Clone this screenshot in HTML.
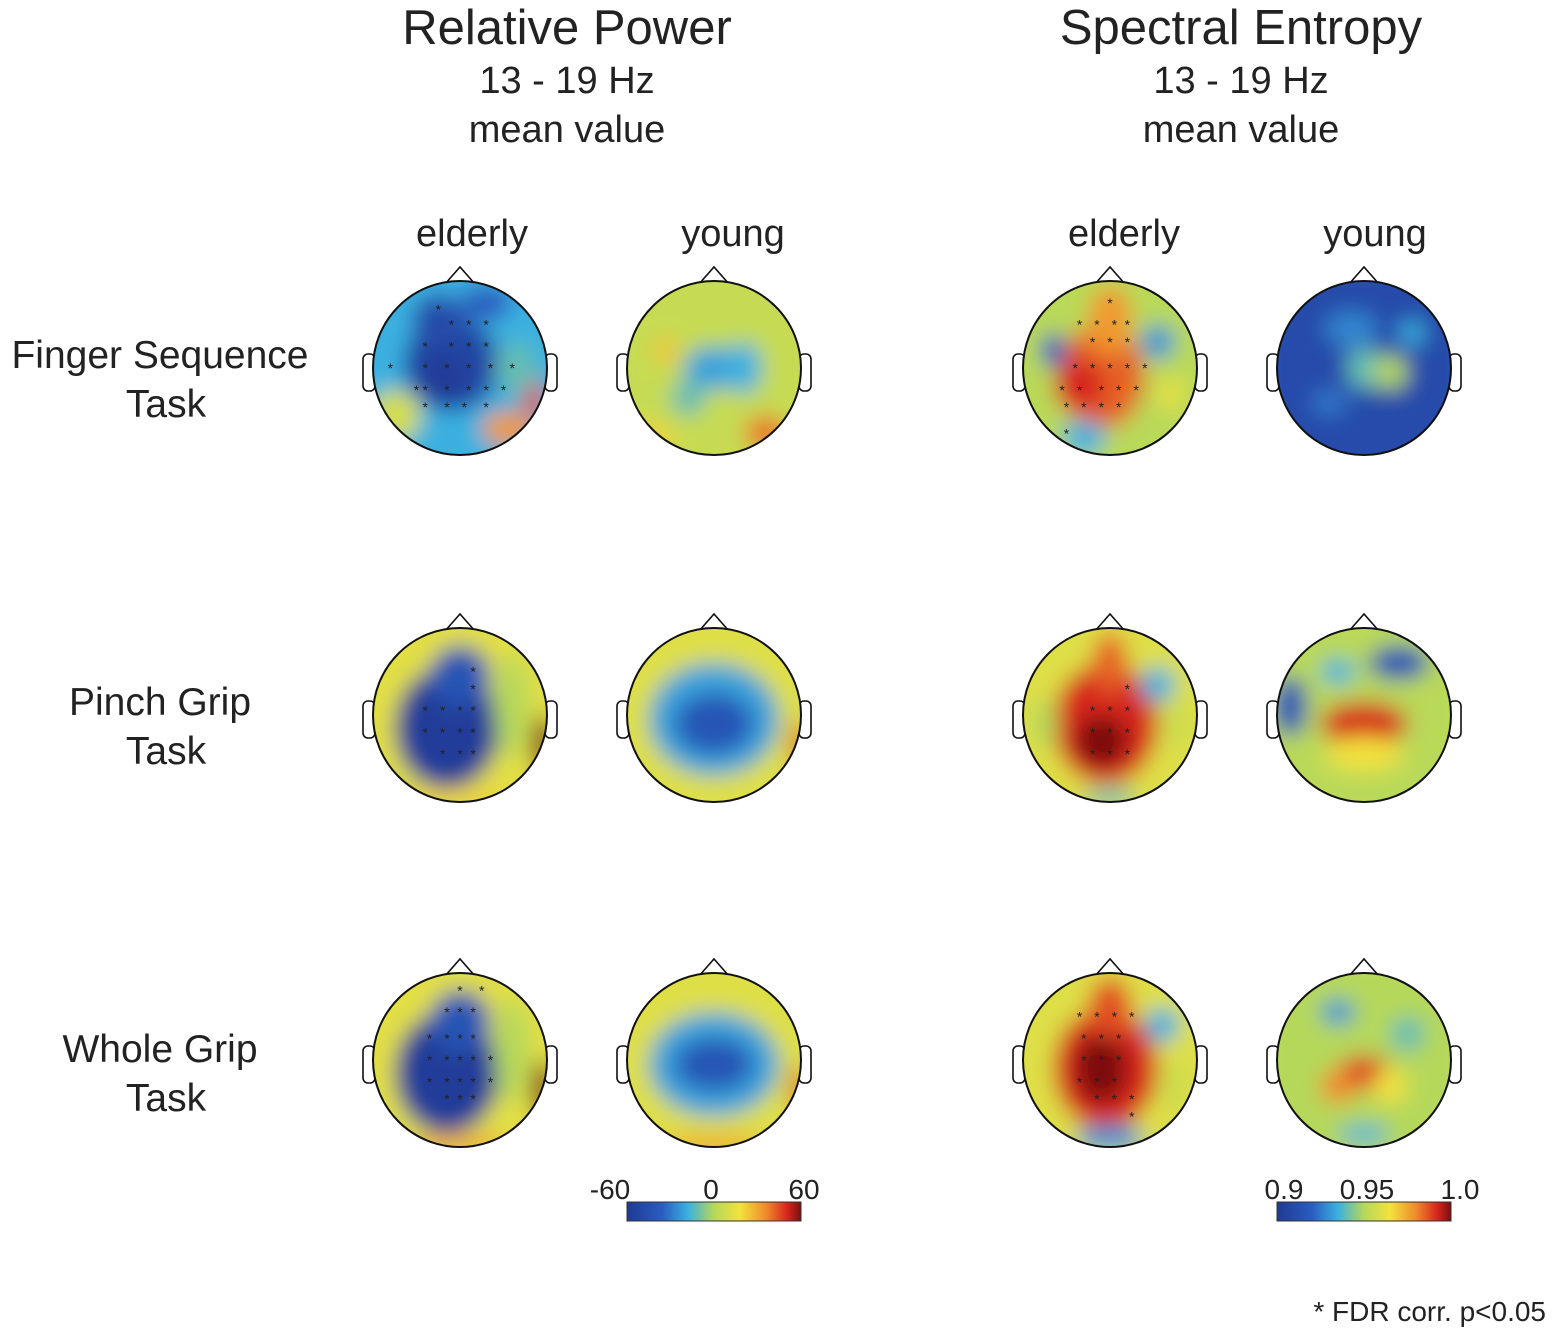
<!DOCTYPE html>
<html><head><meta charset="utf-8">
<style>
body{margin:0;background:#fff;}
svg text{font-family:"Liberation Sans",sans-serif;fill:#222;}
</style></head>
<body>
<svg id="fig" width="1556" height="1338" viewBox="0 0 1556 1338" xmlns="http://www.w3.org/2000/svg">
<defs>
<filter id="blur" x="-20%" y="-20%" width="140%" height="140%"><feGaussianBlur stdDeviation="11"/></filter>
<linearGradient id="jet" x1="0" x2="1" y1="0" y2="0">
<stop offset="0" stop-color="#1f3a93"/><stop offset="0.2" stop-color="#2a5cc0"/><stop offset="0.35" stop-color="#3bb0e0"/><stop offset="0.5" stop-color="#b5d85a"/><stop offset="0.65" stop-color="#f3e23c"/><stop offset="0.8" stop-color="#ef8a2c"/><stop offset="0.92" stop-color="#d7261e"/><stop offset="1" stop-color="#7a0f0f"/>
</linearGradient>
</defs>
<text x="567" y="44" font-size="49" text-anchor="middle">Relative Power</text>
<text x="567" y="93" font-size="38" text-anchor="middle">13 - 19 Hz</text>
<text x="567" y="142" font-size="38" text-anchor="middle">mean value</text>
<text x="1241" y="44" font-size="49" text-anchor="middle">Spectral Entropy</text>
<text x="1241" y="93" font-size="38" text-anchor="middle">13 - 19 Hz</text>
<text x="1241" y="142" font-size="38" text-anchor="middle">mean value</text>
<text x="472" y="246" font-size="38" text-anchor="middle">elderly</text>
<text x="733" y="246" font-size="38" text-anchor="middle">young</text>
<text x="1124" y="246" font-size="38" text-anchor="middle">elderly</text>
<text x="1375" y="246" font-size="38" text-anchor="middle">young</text>
<text x="160" y="368" font-size="39" text-anchor="middle">Finger Sequence</text>
<text x="166" y="417" font-size="39" text-anchor="middle">Task</text>
<text x="160" y="715" font-size="39" text-anchor="middle">Pinch Grip</text>
<text x="166" y="764" font-size="39" text-anchor="middle">Task</text>
<text x="160" y="1062" font-size="39" text-anchor="middle">Whole Grip</text>
<text x="166" y="1111" font-size="39" text-anchor="middle">Task</text>
<rect x="627" y="1202" width="174" height="19" fill="url(#jet)" stroke="#333" stroke-width="1"/>
<text x="610" y="1199" font-size="28" text-anchor="middle">-60</text>
<text x="711" y="1199" font-size="28" text-anchor="middle">0</text>
<text x="804" y="1199" font-size="28" text-anchor="middle">60</text>
<rect x="1277" y="1202" width="174" height="19" fill="url(#jet)" stroke="#333" stroke-width="1"/>
<text x="1284" y="1199" font-size="28" text-anchor="middle">0.9</text>
<text x="1367" y="1199" font-size="28" text-anchor="middle">0.95</text>
<text x="1460" y="1199" font-size="28" text-anchor="middle">1.0</text>
<text x="1546" y="1321" font-size="28" text-anchor="end">* FDR corr. p&lt;0.05</text>
<g id="maps"></g>
</svg>
<script>
const colX = [460, 714, 1110, 1364];
const rowY = [368, 715, 1060];
const R = 87;
const baseVals = [
 [-0.3, 0.08, 0.02, -0.8],
 [0.22, 0.2, 0.2, 0.02],
 [0.22, 0.2, 0.2, 0.0]
];
const blobs = [
 [
  [[-0.1,-0.05,0.55,0.55,-0.85],[-0.25,-0.55,0.3,0.3,-0.8],[-0.2,0.1,0.3,0.3,-0.95],[-0.75,0.55,0.3,0.3,0.15],[0.55,0.7,0.3,0.2,0.55],[0.85,0.35,0.12,0.25,0.75],[0.65,0.0,0.25,0.3,-0.2],[0.3,-0.75,0.3,0.2,-0.6]],
  [[0,0.0,0.35,0.25,-0.35],[0.35,0.0,0.2,0.3,-0.3],[-0.3,0.35,0.2,0.2,-0.2],[0.6,0.75,0.25,0.2,0.65],[-0.55,-0.2,0.15,0.15,0.4],[-0.7,0.8,0.25,0.15,0.35]],
  [[-0.1,0.1,0.5,0.6,0.7],[0,-0.55,0.25,0.4,0.55],[-0.35,0.2,0.3,0.3,0.85],[-0.65,-0.2,0.15,0.2,-0.6],[0.55,-0.3,0.2,0.2,-0.4],[-0.3,0.8,0.25,0.2,-0.3],[0.7,0.3,0.15,0.2,0.25]],
  [[0,0.0,0.2,0.25,-0.2],[0.3,0.05,0.2,0.2,0.0],[-0.15,-0.45,0.3,0.2,-0.45],[0.55,-0.4,0.15,0.15,-0.3],[-0.4,0.4,0.2,0.15,-0.5]]
 ],
 [
  [[-0.15,0.15,0.6,0.7,-0.95],[0,-0.45,0.35,0.35,-0.7],[0.6,-0.1,0.2,0.6,0.0],[0.95,0.35,0.12,0.35,1.0],[0,0.95,0.6,0.1,0.35]],
  [[0,0.05,0.75,0.65,-0.35],[0,0.1,0.45,0.35,-0.7],[0.97,0.35,0.08,0.3,0.8]],
  [[-0.05,0.1,0.6,0.7,0.85],[-0.1,0.3,0.3,0.3,1.0],[0,-0.6,0.2,0.35,0.7],[0.55,-0.35,0.2,0.2,-0.3],[-0.75,0.1,0.15,0.3,0.0],[0.75,0.1,0.15,0.3,0.1],[0,0.95,0.3,0.1,-0.2]],
  [[0.4,-0.6,0.35,0.2,-0.7],[-0.85,-0.1,0.2,0.35,-0.7],[0,0.1,0.5,0.25,0.85],[0,0.45,0.45,0.2,0.3],[-0.3,-0.5,0.2,0.15,-0.3]]
 ],
 [
  [[-0.15,0.15,0.6,0.7,-0.95],[0,-0.45,0.35,0.35,-0.7],[0.6,-0.1,0.2,0.6,0.0],[0.95,0.35,0.12,0.35,1.0],[0,0.97,0.6,0.1,0.5]],
  [[0,0.05,0.75,0.6,-0.35],[0,0.05,0.45,0.3,-0.7],[0.97,0.35,0.08,0.3,0.8],[0,0.97,0.6,0.1,0.5]],
  [[-0.05,0.1,0.6,0.7,0.85],[-0.1,0.1,0.3,0.4,1.0],[0,-0.6,0.25,0.35,0.75],[0.6,-0.4,0.2,0.2,-0.3],[0,0.9,0.4,0.15,-0.4],[0.75,0.3,0.15,0.3,0.1]],
  [[0,0.15,0.3,0.2,0.8],[-0.3,0.3,0.2,0.2,0.6],[0.3,0.3,0.2,0.2,0.3],[-0.3,-0.55,0.2,0.15,-0.4],[0.5,-0.3,0.2,0.2,-0.2],[0,0.85,0.3,0.1,-0.3]]
 ]
];
const stars = [
 [[[-0.25,-0.67],[-0.1,-0.5],[0.1,-0.5],[0.3,-0.5],[-0.4,-0.25],[-0.1,-0.25],[0.1,-0.25],[0.3,-0.25],[-0.8,0],[-0.4,0],[-0.15,0],[0.1,0],[0.35,0],[0.6,0],[-0.5,0.25],[-0.4,0.25],[-0.15,0.25],[0.1,0.25],[0.3,0.25],[0.5,0.25],[-0.4,0.45],[-0.15,0.45],[0.05,0.45],[0.3,0.45]],[],
  [[0,-0.75],[-0.35,-0.5],[-0.15,-0.5],[0.05,-0.5],[0.2,-0.5],[-0.2,-0.3],[0,-0.3],[0.2,-0.3],[-0.4,0],[-0.2,0],[0,0],[0.2,0],[0.4,0],[-0.55,0.25],[-0.35,0.25],[-0.1,0.25],[0.1,0.25],[0.3,0.25],[-0.5,0.45],[-0.3,0.45],[-0.1,0.45],[0.1,0.45],[-0.5,0.75]],[]],
 [[[0.15,-0.5],[0.15,-0.3],[-0.4,-0.05],[-0.2,-0.05],[0,-0.05],[0.15,-0.05],[-0.4,0.2],[-0.2,0.2],[0,0.2],[0.15,0.2],[-0.2,0.45],[0,0.45],[0.15,0.45]],[],
  [[0.2,-0.3],[-0.2,-0.05],[0,-0.05],[0.2,-0.05],[-0.2,0.2],[0,0.2],[0.2,0.2],[-0.2,0.45],[0,0.45],[0.2,0.45]],[]],
 [[[0,-0.8],[0.25,-0.8],[-0.15,-0.55],[0,-0.55],[0.15,-0.55],[-0.35,-0.25],[-0.15,-0.25],[0,-0.25],[0.15,-0.25],[-0.35,0],[-0.15,0],[0,0],[0.15,0],[0.35,0],[-0.35,0.25],[-0.15,0.25],[0,0.25],[0.15,0.25],[0.35,0.25],[-0.15,0.45],[0,0.45],[0.15,0.45]],[],
  [[-0.35,-0.5],[-0.15,-0.5],[0.05,-0.5],[0.25,-0.5],[-0.3,-0.25],[-0.1,-0.25],[0.1,-0.25],[-0.3,0],[-0.1,0],[0.1,0],[-0.35,0.25],[-0.15,0.25],[0.05,0.25],[-0.15,0.45],[0.05,0.45],[0.25,0.45],[0.25,0.65]],[]]
];
const stops = [[-1,[31,58,147]],[-0.6,[42,92,192]],[-0.3,[59,176,224]],[0,[181,216,90]],[0.3,[243,226,60]],[0.6,[239,138,44]],[0.85,[215,38,30]],[1,[122,15,15]]];
function color(v){
  v=Math.max(-1,Math.min(1,v));
  for(let i=0;i<stops.length-1;i++){
    const a=stops[i],b=stops[i+1];
    if(v<=b[0]){const t=(v-a[0])/(b[0]-a[0]);
      return 'rgb('+a[1].map((c,k)=>Math.round(c+(b[1][k]-c)*t)).join(',')+')';}
  }
  return 'rgb(122,15,15)';
}
const NS='http://www.w3.org/2000/svg';
const g=document.getElementById('maps');
const defs=document.querySelector('defs');
function mk(tag,attrs,parent){const e=document.createElementNS(NS,tag);for(const k in attrs)e.setAttribute(k,attrs[k]);parent.appendChild(e);return e;}
const colNames=['rp-elderly','rp-young','se-elderly','se-young'];
const rowNames=['finger-sequence','pinch-grip','whole-grip'];
rowY.forEach((cy,r)=>{colX.forEach((cx,c)=>{
  const id='clip'+r+c;
  const cp=mk('clipPath',{id:id},defs);
  mk('circle',{cx:cx,cy:cy,r:R},cp);
  const head=mk('g',{},g);
  
  
  mk('path',{d:`M${cx-15} ${cy-R+3} L${cx} ${cy-R-14} L${cx+15} ${cy-R+3}`,fill:'#fff',stroke:'#111','stroke-width':1.6},head);
  mk('rect',{x:cx-R-10,y:cy-14,width:12,height:37,rx:5,fill:'#fff',stroke:'#111','stroke-width':1.6},head);
  mk('rect',{x:cx+R-2,y:cy-14,width:12,height:37,rx:5,fill:'#fff',stroke:'#111','stroke-width':1.6},head);
  const cg=mk('g',{'clip-path':`url(#${id})`},head);
  const fg=mk('g',{filter:'url(#blur)'},cg);
  mk('rect',{x:cx-R-20,y:cy-R-20,width:2*R+40,height:2*R+40,fill:color(baseVals[r][c])},fg);
  blobs[r][c].forEach(b=>{
    const e=mk('ellipse',{cx:cx+b[0]*R,cy:cy+b[1]*R,rx:b[2]*R,ry:b[3]*R,fill:color(b[4])},fg);
    
    
  });
  stars[r][c].forEach(s=>{
    const t=mk('text',{x:cx+s[0]*R,y:cy+s[1]*R+5,'font-size':14,'text-anchor':'middle',fill:'#111'},head);
    t.textContent='*';
    
    
  });
  mk('circle',{cx:cx,cy:cy,r:R,fill:'none',stroke:'#111','stroke-width':2},head);
});});
</script>
</body></html>
